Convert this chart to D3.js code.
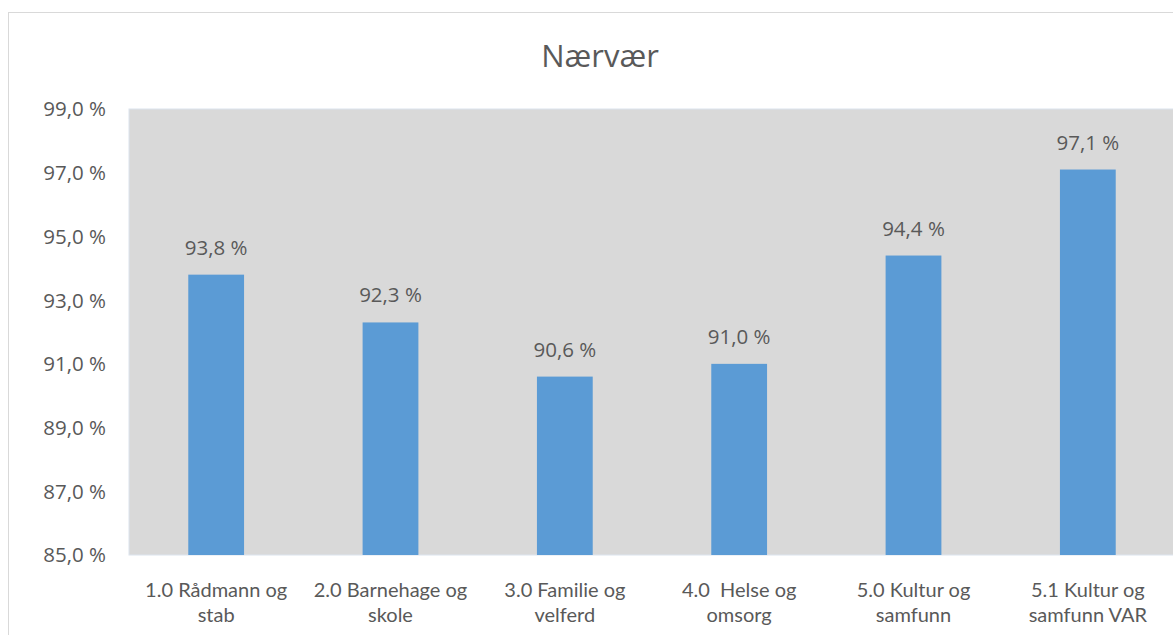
<!DOCTYPE html>
<html>
<head>
<meta charset="utf-8">
<script src="https://cdn.jsdelivr.net/npm/d3@7"></script>
<style>
  body { margin: 0; background: #fff; }
  svg text { font-family: "Open Sans", "Noto Sans", sans-serif; fill: #595959; white-space: pre; }
  svg text.cat { font-family: Lato, "Open Sans", sans-serif; }
</style>
</head>
<body>
<div id="visualization"></div>
<script>
const categories = [
  ["1.0 Rådmann og", "stab"],
  ["2.0 Barnehage og", "skole"],
  ["3.0 Familie og", "velferd"],
  ["4.0  Helse og", "omsorg"],
  ["5.0 Kultur og", "samfunn"],
  ["5.1 Kultur og", "samfunn VAR"]
];
const values = [93.8, 92.3, 90.6, 91.0, 94.4, 97.1];
const yTicks = [85, 87, 89, 91, 93, 95, 97, 99];

const width = 1173, height = 635;
const plot = { left: 129, top: 109, right: 1175, bottom: 555 };

const svg = d3.select("#visualization")
              .append("svg")
              .attr("width", width)
              .attr("height", height);

// chart frame
svg.append("rect")
   .attr("x", 8.5)
   .attr("y", 12.5)
   .attr("width", 1240)
   .attr("height", 700)
   .attr("fill", "#fff")
   .attr("stroke", "#d9d9d9");

svg.append("text")
   .attr("x", 600)
   .attr("y", 67)
   .attr("text-anchor", "middle")
   .style("font-size", "31px")
   .text("Nærvær");

const x = d3.scaleBand()
            .domain(d3.range(categories.length))
            .range([plot.left, plot.right])
            .paddingInner(0.68)
            .paddingOuter(0.34);

const y = d3.scaleLinear()
            .domain([85, 99])
            .range([plot.bottom, plot.top]);

// plot area
svg.append("rect")
   .attr("x", plot.left)
   .attr("y", plot.top)
   .attr("width", plot.right - plot.left)
   .attr("height", plot.bottom - plot.top)
   .attr("fill", "#d9d9d9")
   .attr("stroke", "#dce4ee")
   .attr("stroke-width", 1);

// y axis labels
svg.append("g")
   .selectAll("text")
   .data(yTicks)
   .enter()
   .append("text")
   .attr("x", 106)
   .attr("y", d => y(d))
   .attr("dy", "0.36em")
   .attr("text-anchor", "end")
   .style("font-size", "20.5px")
   .text(d => d.toFixed(1).replace(".", ",") + " %");

// bars
svg.selectAll("rect.bar")
   .data(values)
   .enter()
   .append("rect")
   .attr("class", "bar")
   .attr("x", (d, i) => x(i))
   .attr("y", d => y(d))
   .attr("width", x.bandwidth())
   .attr("height", d => y(85) - y(d))
   .attr("fill", "#5b9bd5");

// data labels
svg.selectAll("text.value")
   .data(values)
   .enter()
   .append("text")
   .attr("class", "value")
   .attr("x", (d, i) => x(i) + x.bandwidth() / 2)
   .attr("y", d => y(d) - 20)
   .attr("text-anchor", "middle")
   .style("font-size", "20.5px")
   .text(d => d.toFixed(1).replace(".", ",") + " %");

// category labels, one text per line
categories.forEach((lines, i) => {
  svg.selectAll(null)
     .data(lines)
     .enter()
     .append("text")
     .attr("class", "cat")
     .attr("x", x(i) + x.bandwidth() / 2)
     .attr("y", (d, j) => 597 + j * 25)
     .attr("text-anchor", "middle")
     .style("font-size", "20px")
     .text(d => d);
});
</script>
</body>
</html>
